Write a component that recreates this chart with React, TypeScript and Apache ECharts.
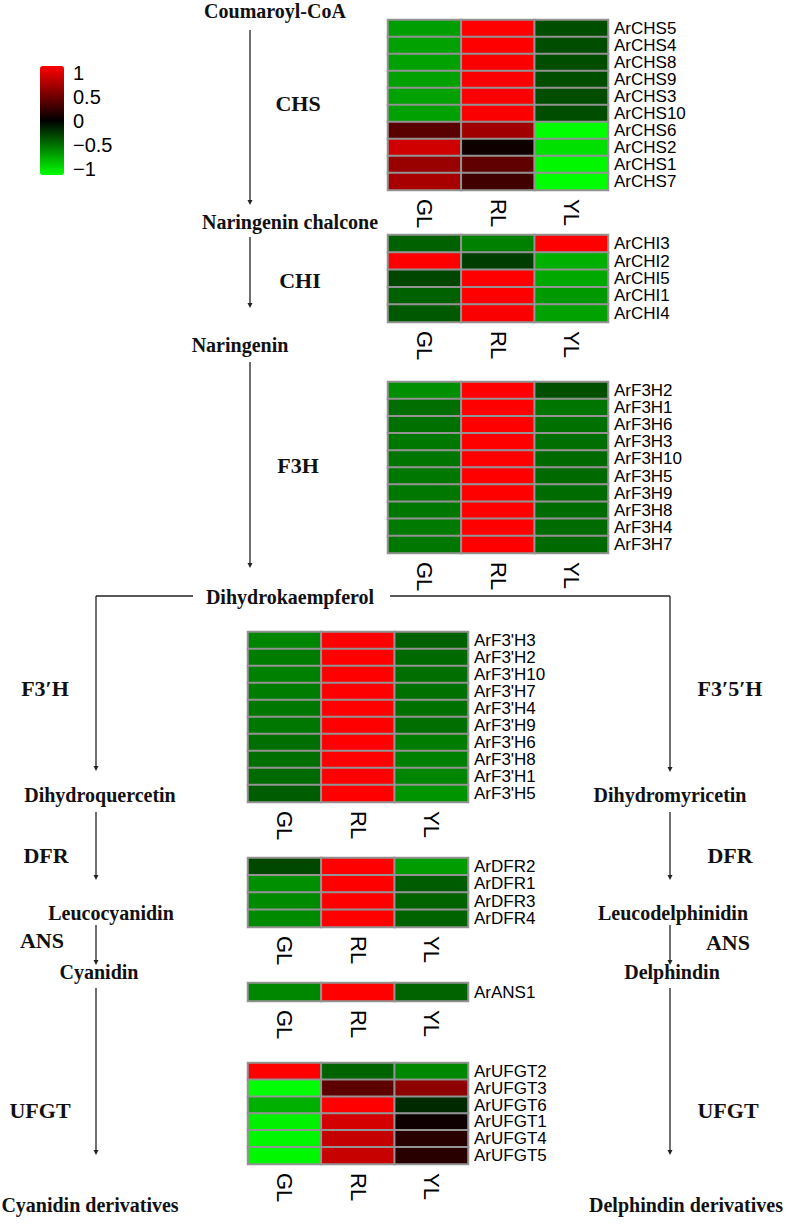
import React, { useEffect, useRef } from 'react';
import * as echarts from 'echarts';

const samples = ['GL', 'RL', 'YL'];

const chsGenes = ['ArCHS5', 'ArCHS4', 'ArCHS8', 'ArCHS9', 'ArCHS3', 'ArCHS10', 'ArCHS6', 'ArCHS2', 'ArCHS1', 'ArCHS7'];
const chsGL = [-0.62, -0.63, -0.63, -0.63, -0.63, -0.63, 0.35, 0.82, 0.6, 0.66];
const chsRL = [1, 1, 0.98, 0.98, 0.98, 0.98, 0.63, 0.06, 0.38, 0.25];
const chsYL = [-0.3, -0.3, -0.3, -0.3, -0.3, -0.3, -1, -0.88, -0.97, -1];

const chiGenes = ['ArCHI3', 'ArCHI2', 'ArCHI5', 'ArCHI1', 'ArCHI4'];
const chiGL = [-0.38, 1, -0.27, -0.38, -0.35];
const chiRL = [-0.5, -0.24, 1, 1, 0.98];
const chiYL = [1, -0.69, -0.66, -0.6, -0.63];

const f3hGenes = ['ArF3H2', 'ArF3H1', 'ArF3H6', 'ArF3H3', 'ArF3H10', 'ArF3H5', 'ArF3H9', 'ArF3H8', 'ArF3H4', 'ArF3H7'];
const f3hGL = [-0.56, -0.43, -0.44, -0.47, -0.46, -0.47, -0.47, -0.47, -0.48, -0.47];
const f3hRL = [1, 1, 1, 1, 1, 1, 1, 1, 1, 1];
const f3hYL = [-0.31, -0.46, -0.44, -0.43, -0.41, -0.41, -0.42, -0.42, -0.42, -0.41];

const f3phGenes = ["ArF3'H3", "ArF3'H2", "ArF3'H10", "ArF3'H7", "ArF3'H4", "ArF3'H9", "ArF3'H6", "ArF3'H8", "ArF3'H1", "ArF3'H5"];
const f3phGL = [-0.52, -0.49, -0.5, -0.49, -0.47, -0.47, -0.43, -0.43, -0.41, -0.36];
const f3phRL = [1, 1, 1, 1, 1, 1, 1, 1, 1, 1];
const f3phYL = [-0.38, -0.41, -0.43, -0.44, -0.44, -0.43, -0.49, -0.5, -0.52, -0.58];

const dfrGenes = ['ArDFR2', 'ArDFR1', 'ArDFR3', 'ArDFR4'];
const dfrGL = [-0.28, -0.56, -0.54, -0.54];
const dfrRL = [1, 1, 1, 1];
const dfrYL = [-0.61, -0.36, -0.39, -0.39];

const ansGenes = ['ArANS1'];
const ansGL = [-0.53];
const ansRL = [1];
const ansYL = [-0.39];

const ufgtGenes = ['ArUFGT2', 'ArUFGT3', 'ArUFGT6', 'ArUFGT1', 'ArUFGT4', 'ArUFGT5'];
const ufgtGL = [1, -1, -0.69, -0.94, -0.97, -0.97];
const ufgtRL = [-0.39, 0.36, 1, 0.83, 0.77, 0.78];
const ufgtYL = [-0.53, 0.56, -0.16, 0.06, 0.16, 0.16];

const legendTicks = [-1, -0.5, 0, 0.5, 1];

const blocks = [
  { genes: chsGenes, gl: chsGL, rl: chsRL, yl: chsYL },
  { genes: chiGenes, gl: chiGL, rl: chiRL, yl: chiYL },
  { genes: f3hGenes, gl: f3hGL, rl: f3hRL, yl: f3hYL },
  { genes: f3phGenes, gl: f3phGL, rl: f3phRL, yl: f3phYL },
  { genes: dfrGenes, gl: dfrGL, rl: dfrRL, yl: dfrYL },
  { genes: ansGenes, gl: ansGL, rl: ansRL, yl: ansYL },
  { genes: ufgtGenes, gl: ufgtGL, rl: ufgtRL, yl: ufgtYL },
];

// layout (positions only)
const gridBoxes = [
  { left: 388, top: 20, width: 220, height: 170 },
  { left: 388, top: 235, width: 220, height: 87 },
  { left: 388, top: 382, width: 220, height: 171 },
  { left: 248, top: 632, width: 220, height: 170 },
  { left: 248, top: 858, width: 220, height: 69 },
  { left: 248, top: 983, width: 220, height: 18 },
  { left: 248, top: 1063, width: 220, height: 101 },
];

const SERIF = '"Liberation Serif", "Times New Roman", serif';
const SANS = '"Liberation Sans", Arial, sans-serif';
const COMPOUND = 20;
const ENZYME = 22;

function label(text: string, x: number, y: number, size: number) {
  return {
    type: 'text',
    style: {
      text, x, y,
      font: `bold ${size}px ${SERIF}`,
      fill: '#111',
      textAlign: 'center', textVerticalAlign: 'middle',
      align: 'center', verticalAlign: 'middle',
    },
  };
}

function arrow(x: number, y1: number, y2: number) {
  return [
    { type: 'line', shape: { x1: x, y1, x2: x, y2: y2 - 2 }, style: { stroke: '#222', lineWidth: 1.3 } },
    { type: 'polygon', shape: { points: [[x - 2.5, y2 - 5], [x + 2.5, y2 - 5], [x, y2]] }, style: { fill: '#222' } },
  ];
}

function hline(x1: number, x2: number, y: number) {
  return { type: 'line', shape: { x1, y1: y, x2, y2: y }, style: { stroke: '#222', lineWidth: 1.3 } };
}

export default function App() {
  const ref = useRef<HTMLDivElement>(null);
  useEffect(() => {
    if (!ref.current) return;
    const chart = echarts.init(ref.current, undefined, { renderer: 'svg' });

    const grids: any[] = [];
    const xAxes: any[] = [];
    const yAxes: any[] = [];
    const series: any[] = [];

    blocks.forEach((b, bi) => {
      grids.push({ ...gridBoxes[bi], containLabel: false });
      xAxes.push({
        type: 'category', gridIndex: bi, data: samples, position: 'bottom',
        axisLine: { show: false }, axisTick: { show: false }, splitLine: { show: false },
        axisLabel: { rotate: -90, fontSize: 22, color: '#000', fontFamily: SANS, margin: 9 },
      });
      yAxes.push({
        type: 'category', gridIndex: bi, data: b.genes, inverse: true, position: 'right',
        axisLine: { show: false }, axisTick: { show: false }, splitLine: { show: false },
        axisLabel: { fontSize: 17, color: '#000', fontFamily: SANS, margin: 6, interval: 0 },
      });
      const data: any[] = [];
      b.genes.forEach((g, i) => {
        data.push([0, i, b.gl[i]]);
        data.push([1, i, b.rl[i]]);
        data.push([2, i, b.yl[i]]);
      });
      series.push({
        type: 'heatmap', xAxisIndex: bi, yAxisIndex: bi, data,
        itemStyle: { borderColor: '#939393', borderWidth: 2 },
        emphasis: { disabled: true },
      });
    });

    // legend tick axis
    const li = blocks.length;
    grids.push({ left: 40, top: 73, width: 24, height: 96 });
    xAxes.push({ type: 'value', gridIndex: li, show: false, min: 0, max: 1 });
    yAxes.push({
      type: 'value', gridIndex: li, min: -1, max: 1, interval: 0.5, position: 'right',
      axisLine: { show: false }, axisTick: { show: false }, splitLine: { show: false },
      axisLabel: {
        fontSize: 20, lineHeight: 20, color: '#000', fontFamily: SANS, margin: 9,
        formatter: (v: number) => (v < 0 ? '\u2212' + Math.abs(v) : String(v)),
      },
      data: legendTicks,
    });

    const graphics: any[] = [
      label('Coumaroyl-CoA', 275, 11, COMPOUND),
      ...arrow(250, 30, 205),
      label('CHS', 298, 103, ENZYME),
      label('Naringenin chalcone', 290, 222, COMPOUND),
      ...arrow(250, 237, 308),
      label('CHI', 300, 280, ENZYME),
      label('Naringenin', 240, 345, COMPOUND),
      ...arrow(250, 362, 568),
      label('F3H', 298, 465, ENZYME),
      label('Dihydrokaempferol', 290, 597, COMPOUND),
      hline(96, 193, 596),
      hline(390, 670, 596),
      // left branch
      ...arrow(96, 596, 771),
      label('F3\u2032H', 45, 688, ENZYME),
      label('Dihydroquercetin', 100, 795, COMPOUND),
      ...arrow(96, 812, 880),
      label('DFR', 46, 855, ENZYME),
      label('Leucocyanidin', 111, 913, COMPOUND),
      ...arrow(96, 925, 965),
      label('ANS', 42, 940, ENZYME),
      label('Cyanidin', 99, 972, COMPOUND),
      ...arrow(96, 988, 1155),
      label('UFGT', 40, 1110, ENZYME),
      label('Cyanidin derivatives', 90, 1205, COMPOUND),
      // right branch
      ...arrow(670, 596, 772),
      label('F3\u20325\u2032H', 730, 688, ENZYME),
      label('Dihydromyricetin', 670, 795, COMPOUND),
      ...arrow(670, 812, 880),
      label('DFR', 730, 855, ENZYME),
      label('Leucodelphinidin', 673, 913, COMPOUND),
      ...arrow(670, 925, 965),
      label('ANS', 728, 942, ENZYME),
      label('Delphindin', 672, 972, COMPOUND),
      ...arrow(670, 988, 1155),
      label('UFGT', 728, 1110, ENZYME),
      label('Delphindin derivatives', 686, 1205, COMPOUND),
    ];

    chart.setOption({
      animation: false,
      backgroundColor: '#fff',
      grid: grids,
      xAxis: xAxes,
      yAxis: yAxes,
      visualMap: {
        type: 'continuous', min: -1, max: 1, calculable: false, show: true,
        left: 40, top: 66, itemWidth: 24, itemHeight: 109, padding: 0,
        text: null, seriesIndex: blocks.map((_, i) => i),
        inRange: { color: ['#00ff00', '#000000', '#ff0000'] },
        hoverLink: false,
      },
      series,
      graphic: { elements: graphics },
    });
    return () => chart.dispose();
  }, []);
  return (
    <div
      ref={ref}
      style={{ position: 'absolute', left: 0, top: 0, width: 787, height: 1225, background: '#fff' }}
    />
  );
}
